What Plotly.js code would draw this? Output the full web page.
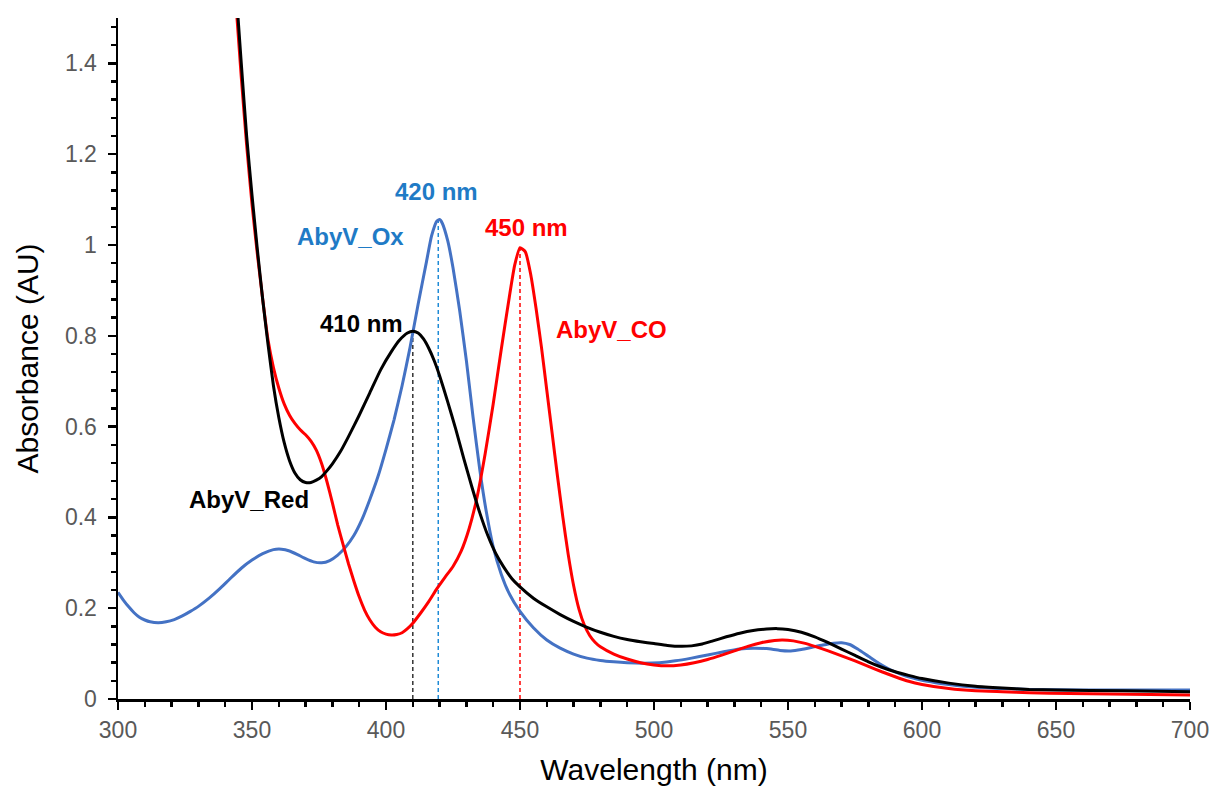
<!DOCTYPE html>
<html>
<head>
<meta charset="utf-8">
<script src="https://cdn.plot.ly/plotly-3.0.1.min.js"></script>
<style>html,body{margin:0;padding:0;background:#fff;}#chart{width:1213px;height:787px;}</style>
</head>
<body>
<div id="chart"></div>
<script>
// AbyV_Ox (blue)
const oxNm = [300,302,304,306,308,310,312,315,318,321,324,327,330,334,338,342,346,350,354,358,361,364,367,370,373,376,379,382,385,388,391,394,397,400,403,406,409,412,415,417,419,420,421,423,425,427.5,430,432.5,435,437.5,440,443,446,450,455,460,465,470,475,480,485,490,496,502,508,514,520,526,532,537,542,547,551,555,559,563,567,570,573,576,580,584,588,592,596,600,605,610,620,630,640,660,680,700];
const oxAbs = [0.235,0.218,0.203,0.19,0.18,0.174,0.17,0.168,0.17,0.175,0.183,0.193,0.204,0.222,0.243,0.266,0.288,0.306,0.32,0.329,0.33,0.326,0.318,0.309,0.302,0.30,0.305,0.317,0.335,0.36,0.395,0.44,0.49,0.55,0.615,0.69,0.775,0.87,0.96,1.02,1.053,1.056,1.048,1.01,0.95,0.855,0.745,0.62,0.505,0.41,0.335,0.275,0.232,0.193,0.157,0.13,0.112,0.099,0.09,0.085,0.082,0.08,0.079,0.08,0.084,0.09,0.097,0.104,0.11,0.112,0.111,0.107,0.106,0.109,0.114,0.119,0.123,0.124,0.12,0.11,0.094,0.078,0.065,0.055,0.047,0.041,0.036,0.032,0.026,0.023,0.021,0.02,0.02,0.02];

// AbyV_Red (black)
const redNm = [344.8,346,348,350,352,354,356,358,360,362,364,366,368,370,372,374,376,378,380,383,386,390,394,398,402,405,408,410,412,414,416,418,420,423,426,429,432,435,438,441,444,447,450,455,460,465,470,475,480,485,490,495,500,505,510,514,518,522,527,532,537,542,546,550,555,560,565,570,575,580,585,590,595,600,610,620,630,640,650,675,700];
const redAbs = [1.50,1.40,1.24,1.11,0.99,0.88,0.78,0.69,0.62,0.565,0.525,0.498,0.483,0.477,0.477,0.482,0.49,0.503,0.518,0.545,0.578,0.625,0.675,0.725,0.765,0.79,0.806,0.81,0.806,0.793,0.772,0.745,0.712,0.655,0.595,0.53,0.468,0.41,0.36,0.32,0.29,0.265,0.247,0.222,0.203,0.186,0.171,0.158,0.147,0.138,0.131,0.126,0.122,0.118,0.116,0.117,0.121,0.128,0.137,0.145,0.151,0.154,0.155,0.153,0.147,0.137,0.124,0.11,0.096,0.082,0.07,0.06,0.052,0.045,0.035,0.028,0.024,0.021,0.02,0.018,0.016];

// AbyV_CO (red)
const coNm = [344.4,346,348,350,352,354,356,358,360,362,364,366,368,370,372,374,376,378,380,382,384,386,388,390,392,394,396,398,400,402,404,406,408,410,413,416,419,422,425,428,431,434,437,440,443,446,448,450,452,454,456,458,460,462,464,466,468,470,472,474,476,478,480,485,490,495,500,505,510,515,520,525,530,535,540,545,548,552,556,560,565,570,575,580,585,590,595,600,610,620,630,640,655,670,685,700];
const coAbs = [1.50,1.37,1.22,1.09,0.98,0.88,0.79,0.73,0.685,0.65,0.625,0.607,0.593,0.582,0.568,0.548,0.518,0.478,0.432,0.383,0.34,0.298,0.26,0.225,0.196,0.174,0.158,0.148,0.143,0.141,0.142,0.146,0.155,0.167,0.19,0.215,0.243,0.268,0.292,0.325,0.375,0.445,0.54,0.65,0.77,0.885,0.955,0.994,0.985,0.935,0.86,0.775,0.68,0.585,0.49,0.40,0.318,0.25,0.198,0.163,0.14,0.125,0.115,0.099,0.088,0.08,0.075,0.073,0.075,0.08,0.087,0.096,0.106,0.116,0.124,0.129,0.13,0.128,0.123,0.116,0.106,0.095,0.084,0.072,0.06,0.049,0.039,0.032,0.023,0.018,0.016,0.014,0.012,0.011,0.01,0.009];

// Peak markers (dashed drop lines)
const peakNm = [410, 419.5, 450];
const peakAbs = [0.81, 1.056, 0.994];
const peakLabels = ["410 nm", "420 nm", "450 nm"];
const peakColors = ["#333333", "#1F8BD6", "#FF0000"];

// Series labels
const seriesNames = ["AbyV_Red", "AbyV_Ox", "AbyV_CO"];
const seriesLabelNm = [348.9, 386.6, 484.3];
const seriesLabelAbs = [0.439, 1.018, 0.813];
const peakLabelNm = [391, 419, 452.6];
const peakLabelAbs = [0.827, 1.118, 1.038];
const textColors = ["#000000", "#1F7BC6", "#FF0000"];

const lineColors = ["#000000", "#4472C4", "#FF0000"];

const traces = [];
peakNm.forEach((p, i) => {
  traces.push({
    x: [p, p], y: [0, peakAbs[i]], mode: 'lines', type: 'scatter',
    line: {color: peakColors[i], width: 1.5, dash: '4px,3px'},
    hoverinfo: 'skip', showlegend: false
  });
});
const series = [[oxNm, oxAbs, 1], [coNm, coAbs, 2], [redNm, redAbs, 0]];
series.forEach(s => {
  traces.push({
    x: s[0], y: s[1], mode: 'lines', type: 'scatter', name: seriesNames[s[2]],
    line: {color: lineColors[s[2]], width: 3, shape: 'spline', smoothing: 0.5},
    showlegend: false
  });
});

const annFont = {family: "'Liberation Sans', Arial, sans-serif", size: 24};
const annotations = [];
for (let i = 0; i < 3; i++) {
  annotations.push({x: seriesLabelNm[i], y: seriesLabelAbs[i], xref: 'x', yref: 'y', text: '<b>' + seriesNames[i] + '</b>',
    showarrow: false, font: Object.assign({}, annFont, {color: textColors[i]}), xanchor: 'center', yanchor: 'middle'});
  annotations.push({x: peakLabelNm[i], y: peakLabelAbs[i], xref: 'x', yref: 'y', text: '<b>' + peakLabels[i] + '</b>',
    showarrow: false, font: Object.assign({}, annFont, {color: textColors[i]}), xanchor: 'center', yanchor: 'middle'});
}

const tickFont = {family: "'Liberation Sans', Arial, sans-serif", size: 23, color: '#595959'};
const titleFont = {family: "'Liberation Sans', Arial, sans-serif", size: 30, color: '#000000'};

const layout = {
  width: 1213, height: 787,
  margin: {l: 118, r: 23, t: 18, b: 88},
  paper_bgcolor: '#ffffff', plot_bgcolor: '#ffffff',
  showlegend: false,
  xaxis: {
    range: [300, 700], dtick: 50, tick0: 300,
    showgrid: false, zeroline: false,
    showline: true, linecolor: '#000', linewidth: 2.5,
    ticks: 'outside', ticklen: 8, tickwidth: 2.5, tickcolor: '#000',
    minor: {dtick: 10, ticks: 'outside', ticklen: 5, tickwidth: 2.5, tickcolor: '#000', showgrid: false},
    tickfont: tickFont, ticklabelstandoff: 1,
    title: {text: 'Wavelength (nm)', font: titleFont, standoff: 17}
  },
  yaxis: {
    range: [0, 1.5], dtick: 0.2, tick0: 0,
    showgrid: false, zeroline: false,
    showline: true, linecolor: '#000', linewidth: 2.5,
    ticks: 'outside', ticklen: 8, tickwidth: 2.5, tickcolor: '#000',
    minor: {dtick: 0.04, ticks: 'outside', ticklen: 5, tickwidth: 2.5, tickcolor: '#000', showgrid: false},
    tickfont: tickFont, ticklabelstandoff: 6,
    title: {text: 'Absorbance (AU)', font: titleFont, standoff: 18}
  },
  annotations: annotations
};

Plotly.newPlot('chart', traces, layout, {displayModeBar: false, staticPlot: true});
</script>
</body>
</html>
